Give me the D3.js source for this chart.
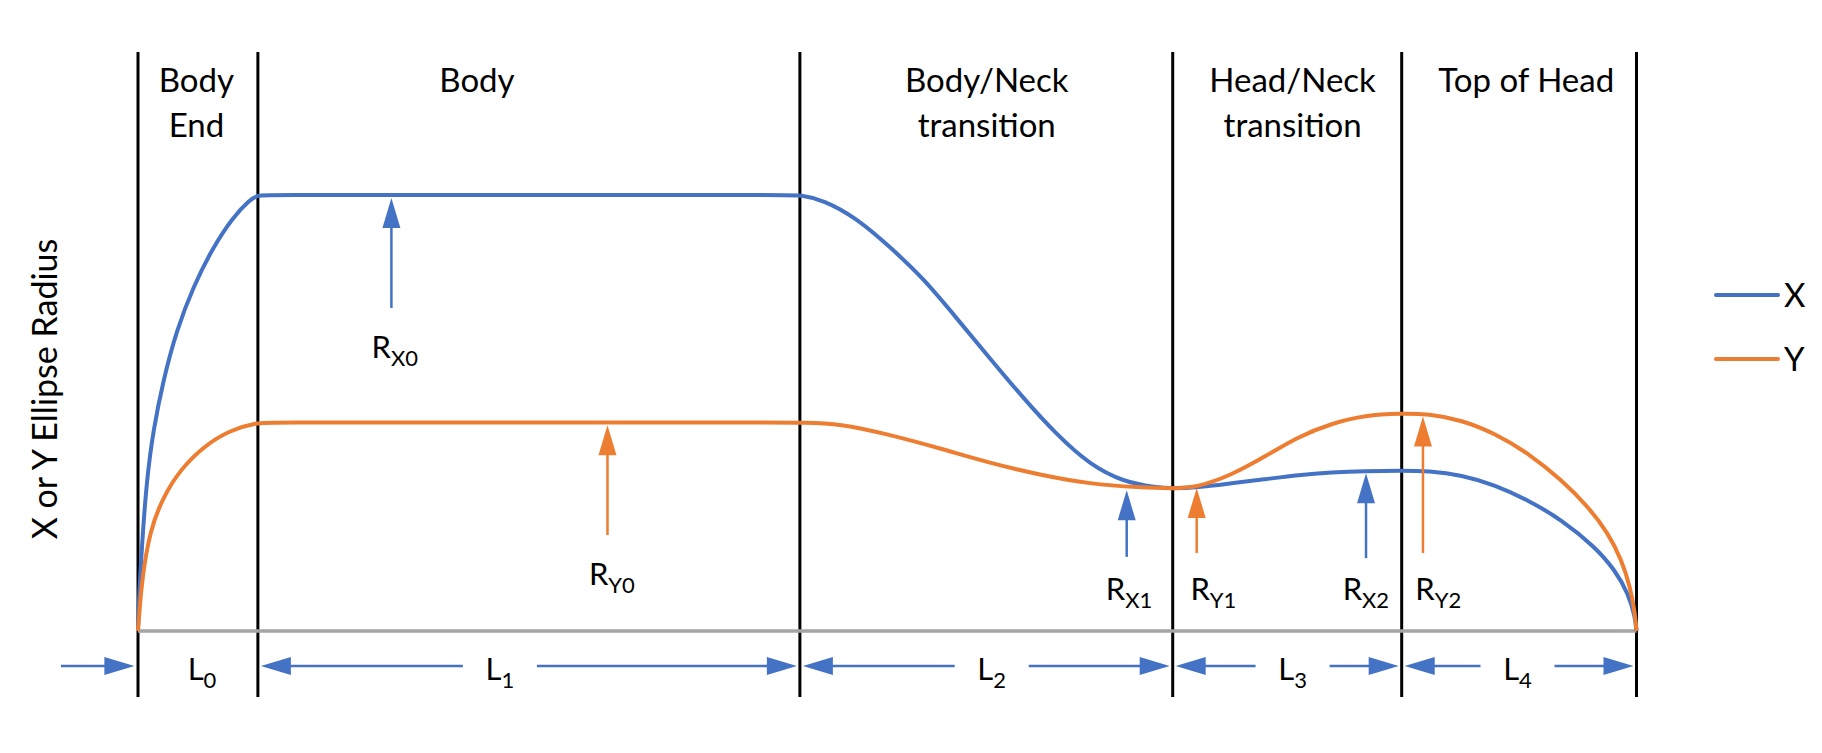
<!DOCTYPE html>
<html>
<head>
<meta charset="utf-8">
<script src="https://cdn.jsdelivr.net/npm/d3@7"></script>
<style>
  body { margin: 0; background: #fff; }
  text { font-family: Lato, "Noto Sans", sans-serif; fill: #000; }
</style>
</head>
<body>
<div id="chart"></div>
<script>
// positions along the body, 0..100
const boundaries = [0, 8, 44.17, 69.05, 84.33, 100];
const sectionNames = [["Body", "End"], ["Body"], ["Body/Neck", "transition"], ["Head/Neck", "transition"], ["Top of Head"]];
const sectionLabelX = [3.9, 22.62, 56.64, 77.05, 92.64];

// ellipse radius profiles, [position, radius]
const xRadius = [
    [0, 0], [0.02, 0.41], [0.25, 1.93], [0.58, 3.46], [1.02, 4.61], [1.69, 5.76], [2.58, 6.9],
    [3.69, 7.9], [5.02, 8.81], [6.36, 9.5], [7.47, 9.89], [8, 10], [8.8, 10],
    [20, 10], [30, 10], [43.4, 10],
    [44.17, 10], [45.73, 9.89], [47.96, 9.47], [50.18, 8.81], [52.41, 8.09], [54.64, 7.17],
    [56.86, 6.25], [59.08, 5.34], [61.31, 4.5], [63.53, 3.81], [65.75, 3.42], [67.98, 3.29], [69.05, 3.27],
    [70.65, 3.29], [72.99, 3.39], [75.21, 3.48], [77.43, 3.58], [79.66, 3.64], [81.88, 3.67], [84.33, 3.68],
    [86.11, 3.67], [88.33, 3.58], [90.56, 3.35], [92.78, 3.0], [95.01, 2.55], [97.23, 1.93],
    [98.56, 1.4], [99.45, 0.86], [99.9, 0.33], [100, 0]
];
const yRadius = [
    [0, 0], [0.02, 0.1], [0.25, 1.17], [0.8, 2.32], [1.69, 3.08], [2.8, 3.69], [4.36, 4.23],
    [6.14, 4.61], [8, 4.78], [8.8, 4.78],
    [20, 4.78], [30, 4.78], [43.4, 4.78],
    [44.17, 4.78], [46.84, 4.76], [50.18, 4.5], [53.52, 4.19], [56.86, 3.85], [60.19, 3.58],
    [63.53, 3.37], [66.87, 3.29], [69.05, 3.27],
    [70.65, 3.29], [72.99, 3.58], [75.21, 4.0], [77.43, 4.46], [79.66, 4.76], [81.88, 4.95], [84.33, 4.99],
    [86.11, 4.98], [88.33, 4.84], [90.56, 4.53], [92.78, 4.08], [95.01, 3.46], [96.78, 2.85],
    [98.12, 2.24], [99.01, 1.63], [99.57, 1.02], [99.9, 0.41], [100, 0]
];

// radius call-outs: arrow position, tip / tail radius, label start and baseline
const radiusNames = ["X0", "Y0", "X1", "Y1", "X2", "Y2"];
const radiusSeries = ["X", "Y", "X", "Y", "X", "Y"];
const radiusAt = [16.91, 31.33, 65.98, 70.65, 81.95, 85.75];
const radiusTip = [9.93, 4.72, 3.23, 3.28, 3.62, 4.92];
const radiusTail = [7.41, 2.2, 1.7, 1.79, 1.67, 1.79];
const radiusLabelX = [15.59, 30.09, 64.58, 70.23, 80.39, 85.24];
const radiusLabelY = [6.26, 1.06, 0.71, 0.71, 0.71, 0.71];

// length labels under the axis
const lengthNames = ["0", "1", "2", "3", "4"];
const lengthLabelX = [4.27, 24.15, 56.97, 77.05, 92.06];
const leadArrow = [-5.14, -0.24];

const seriesNames = ["X", "Y"];
const colors = { X: "#4472C4", Y: "#ED7D31" };

const width = 1822, height = 753;
const svg = d3.select("#chart").append("svg").attr("width", width).attr("height", height);

const x = d3.scaleLinear().domain([0, 100]).range([138, 1636.5]);
const y = d3.scaleLinear().domain([0, 10]).range([631, 195]);

function arrowHead(g, tx, ty, dx, dy, color) {
    const len = 30, half = 9;
    const bx = tx - dx * len, by = ty - dy * len;
    g.append("path")
        .attr("d", `M${tx},${ty}L${bx - dy * half},${by + dx * half}L${bx + dy * half},${by - dx * half}Z`)
        .attr("fill", color);
}

// section boundaries
svg.append("g").selectAll("line")
    .data(boundaries)
    .enter().append("line")
    .attr("x1", d => x(d)).attr("x2", d => x(d))
    .attr("y1", 52).attr("y2", 697)
    .attr("stroke", "#000").attr("stroke-width", 3);

// baseline
svg.append("line")
    .attr("x1", x(0)).attr("x2", x(100))
    .attr("y1", y(0)).attr("y2", y(0))
    .attr("stroke", "#A5A5A5").attr("stroke-width", 3.5);

// section names
sectionNames.forEach((lines, i) => {
    const t = svg.append("text")
        .attr("text-anchor", "middle")
        .attr("font-size", 33);
    lines.forEach((s, j) => {
        t.append("tspan").attr("x", x(sectionLabelX[i])).attr("y", 92 + j * 45).text(s);
    });
});

// curves
const line = d3.line().x(d => x(d[0])).y(d => y(d[1])).curve(d3.curveBasis);
svg.append("path").datum(xRadius).attr("d", line)
    .attr("fill", "none").attr("stroke", colors.X).attr("stroke-width", 4);
svg.append("path").datum(yRadius).attr("d", line)
    .attr("fill", "none").attr("stroke", colors.Y).attr("stroke-width", 4);

// radius arrows
const rg = svg.append("g");
radiusNames.forEach((name, i) => {
    const c = colors[radiusSeries[i]];
    const px = x(radiusAt[i]);
    rg.append("line")
        .attr("x1", px).attr("x2", px)
        .attr("y1", y(radiusTail[i])).attr("y2", y(radiusTip[i]) + 20)
        .attr("stroke", c).attr("stroke-width", 2.5);
    arrowHead(rg, px, y(radiusTip[i]), 0, -1, c);
    const t = rg.append("text")
        .attr("x", x(radiusLabelX[i]))
        .attr("y", y(radiusLabelY[i]))
        .attr("font-size", 31);
    t.append("tspan").text("R");
    t.append("tspan").attr("font-size", 22).attr("dy", 8).text(name);
});

// length dimension arrows
const dimY = y(0) + 35;
const dg = svg.append("g");
const shaft = (a, b) => dg.append("line")
    .attr("x1", a).attr("x2", b).attr("y1", dimY).attr("y2", dimY)
    .attr("stroke", colors.X).attr("stroke-width", 2.5);

shaft(x(leadArrow[0]), x(leadArrow[1]) - 20);
arrowHead(dg, x(leadArrow[1]), dimY, 1, 0, colors.X);

lengthNames.forEach((n, i) => {
    const cx = x(lengthLabelX[i]);
    if (i > 0) {
        const left = x(boundaries[i]) + 3, right = x(boundaries[i + 1]) - 3;
        shaft(left + 20, cx - 37);
        shaft(cx + 37, right - 20);
        arrowHead(dg, left, dimY, -1, 0, colors.X);
        arrowHead(dg, right, dimY, 1, 0, colors.X);
    }
    const t = dg.append("text")
        .attr("x", cx)
        .attr("y", dimY + 14)
        .attr("text-anchor", "middle")
        .attr("font-size", 31);
    t.append("tspan").text("L");
    t.append("tspan").attr("font-size", 22).attr("dy", 8).text(n);
});

// y axis title
svg.append("text")
    .attr("transform", "translate(57,389) rotate(-90)")
    .attr("text-anchor", "middle")
    .attr("font-size", 34)
    .text("X or Y Ellipse Radius");

// legend
const lg = svg.append("g").attr("transform", "translate(1716,295)");
seriesNames.forEach((s, i) => {
    lg.append("line")
        .attr("x1", 0).attr("x2", 62)
        .attr("y1", i * 64).attr("y2", i * 64)
        .attr("stroke", colors[s]).attr("stroke-width", 4)
        .attr("stroke-linecap", "round");
    lg.append("text")
        .attr("x", 68).attr("y", i * 64 + 12)
        .attr("font-size", 33)
        .text(s);
});
</script>
</body>
</html>
